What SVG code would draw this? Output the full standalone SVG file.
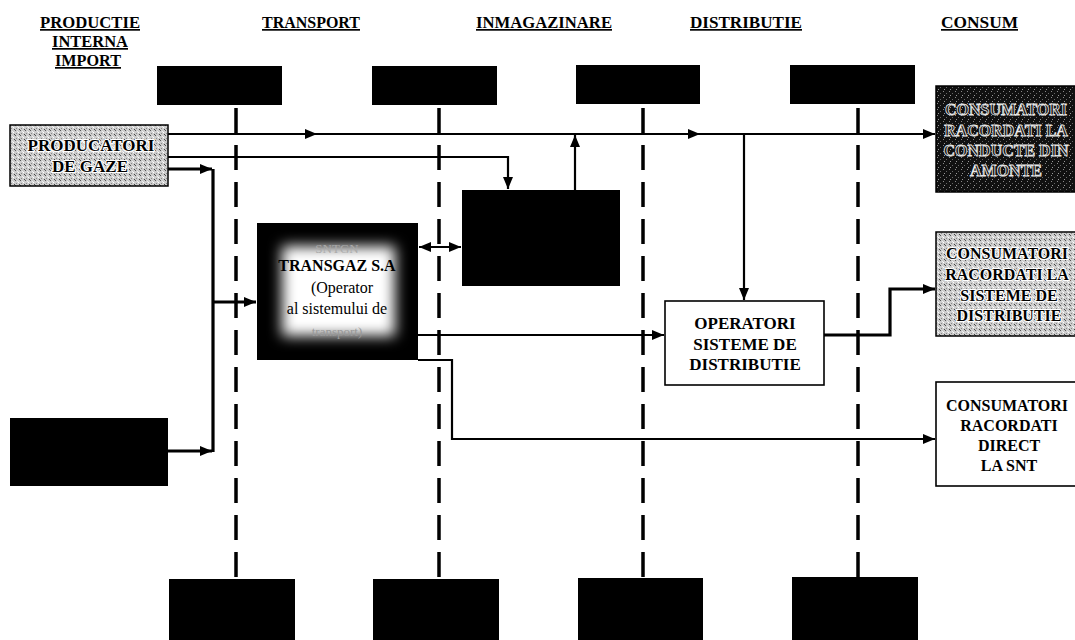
<svg xmlns="http://www.w3.org/2000/svg" width="1075" height="640" viewBox="0 0 1075 640">
<style>
.hdr{font-family:"Liberation Serif","Times New Roman",serif;font-weight:bold;font-size:17px;text-decoration:underline;fill:#000}
.lbl{font-family:"Liberation Serif","Times New Roman",serif;font-weight:bold;font-size:17px;text-anchor:middle;fill:#000}
.cl{font-size:16px}
.halo{stroke:#fff;stroke-width:2.2;paint-order:stroke;stroke-linejoin:round}
.outl{fill:#111;stroke:#e8e8e8;stroke-width:0.8}
.tg{font-family:"Liberation Serif","Times New Roman",serif;font-size:16px;text-anchor:middle;fill:#000}
.blk{fill:#000}
.dash{stroke:#000;stroke-width:3.5;stroke-dasharray:25 12;fill:none}
.ln{stroke:#000;stroke-width:2.2;fill:none}
.thk{stroke:#000;stroke-width:3.2;fill:none}
</style>
<defs>
<marker id="ah" markerUnits="userSpaceOnUse" markerWidth="13" markerHeight="11" refX="12" refY="5" orient="auto-start-reverse" viewBox="0 0 13 10">
<path d="M0,0 L12,5 L0,10 z" fill="#000"/>
</marker>
<pattern id="stip" width="5" height="5" patternUnits="userSpaceOnUse">
<rect width="5" height="5" fill="#cdcdcd"/>
<rect x="0" y="0" width="1" height="1" fill="#555"/>
<rect x="3" y="2" width="1" height="1" fill="#fff"/>
<rect x="1" y="3" width="1" height="1" fill="#888"/>
<rect x="4" y="4" width="1" height="1" fill="#444"/>
<rect x="2" y="1" width="1" height="1" fill="#eee"/>
</pattern>
<pattern id="dstip" width="6" height="6" patternUnits="userSpaceOnUse">
<rect width="6" height="6" fill="#111"/>
<rect x="1" y="1" width="1" height="1" fill="#888"/>
<rect x="4" y="3" width="1" height="1" fill="#666"/>
<rect x="2" y="5" width="1" height="1" fill="#999"/>
</pattern>
<filter id="glow" x="-20%" y="-20%" width="140%" height="140%">
<feGaussianBlur stdDeviation="7"/>
</filter>
<clipPath id="tgclip"><rect x="257" y="223" width="161" height="137"/></clipPath>
</defs>

<g id="headers">
<text class="hdr" x="40" y="28" textLength="100" lengthAdjust="spacingAndGlyphs">PRODUCTIE</text>
<text class="hdr" x="52" y="47" textLength="76" lengthAdjust="spacingAndGlyphs">INTERNA</text>
<text class="hdr" x="55" y="66" textLength="66" lengthAdjust="spacingAndGlyphs">IMPORT</text>
<text class="hdr" x="262" y="28" textLength="98" lengthAdjust="spacingAndGlyphs">TRANSPORT</text>
<text class="hdr" x="476" y="28" textLength="136" lengthAdjust="spacingAndGlyphs">INMAGAZINARE</text>
<text class="hdr" x="690" y="28" textLength="112" lengthAdjust="spacingAndGlyphs">DISTRIBUTIE</text>
<text class="hdr" x="941" y="28" textLength="77" lengthAdjust="spacingAndGlyphs">CONSUM</text>
</g>

<g id="connectors">
<line class="dash" x1="236" y1="108" x2="236" y2="580"/>
<line class="dash" x1="439" y1="108" x2="439" y2="580"/>
<line class="dash" x1="643" y1="108" x2="643" y2="580"/>
<line class="dash" x1="858" y1="108" x2="858" y2="580"/>
<path class="ln" d="M168,134 L317,134 L700,134 L935,134" marker-mid="url(#ah)" marker-end="url(#ah)"/>
<path class="ln" d="M168,157 L508,157 L508,189" marker-end="url(#ah)"/>
<path class="ln" d="M575,190 L575,135" marker-end="url(#ah)"/>
<path class="ln" d="M744,134 L744,300" marker-end="url(#ah)"/>
<path class="thk" d="M168,169 L212,169" marker-end="url(#ah)"/>
<path class="thk" d="M213,169 L213,452"/>
<path class="thk" d="M168,451 L212,451" marker-end="url(#ah)"/>
<path class="thk" d="M213,302 L256,302" marker-end="url(#ah)"/>
<path class="ln" d="M419,247 L461,247" marker-start="url(#ah)" marker-end="url(#ah)"/>
<path class="ln" d="M418,335 L664,335" marker-end="url(#ah)"/>
<path class="ln" d="M418,360 L452,360 L452,439 L935,439" marker-end="url(#ah)"/>
<path class="thk" d="M824,335 L890,335 L890,289 L935,289" marker-end="url(#ah)"/>
</g>

<g id="top-boxes">
<rect id="top-box-1" class="blk" x="157" y="66" width="125" height="39"/>
<rect id="top-box-2" class="blk" x="372" y="66" width="125" height="39"/>
<rect id="top-box-3" class="blk" x="576" y="65" width="124" height="39"/>
<rect id="top-box-4" class="blk" x="790" y="65" width="125" height="39"/>
</g>

<g id="bottom-boxes">
<rect id="bottom-box-1" class="blk" x="169" y="579" width="126" height="61"/>
<rect id="bottom-box-2" class="blk" x="373" y="579" width="126" height="61"/>
<rect id="bottom-box-3" class="blk" x="578" y="578" width="125" height="62"/>
<rect id="bottom-box-4" class="blk" x="792" y="577" width="126" height="63"/>
</g>

<g id="producatori">
<rect x="10" y="125" width="158" height="61" fill="url(#stip)" stroke="#000" stroke-width="1.5"/>
<text class="lbl halo" x="91" y="151">PRODUCATORI</text>
<text class="lbl halo" x="90" y="172">DE GAZE</text>
</g>

<g id="import-box">
<rect class="blk" x="10" y="418" width="158" height="68"/>
</g>

<g id="transgaz">
<rect class="blk" x="257" y="223" width="161" height="137"/>
<g clip-path="url(#tgclip)">
<rect x="282" y="246" width="113" height="90" fill="#fff" filter="url(#glow)"/>
</g>
<text class="tg" x="337" y="253" style="fill:#aaa;font-size:13px">SNTGN</text>
<text class="tg" x="337" y="271" style="font-weight:bold">TRANSGAZ S.A</text>
<text class="tg" x="342" y="293">(Operator</text>
<text class="tg" x="337" y="314">al sistemului de</text>
<text class="tg" x="337" y="336" style="fill:#999;font-size:13px">transport)</text>
</g>

<g id="inmagazinare">
<rect class="blk" x="462" y="190" width="158" height="96"/>
</g>

<g id="operatori">
<rect x="665" y="301" width="159" height="84" fill="#fff" stroke="#000" stroke-width="1.6"/>
<text class="lbl" x="745" y="329">OPERATORI</text>
<text class="lbl" x="745" y="350">SISTEME DE</text>
<text class="lbl" x="745" y="370">DISTRIBUTIE</text>
</g>

<g id="consumatori-amonte">
<rect x="936" y="86" width="145" height="106" fill="url(#dstip)" stroke="#000" stroke-width="1.5"/>
<text class="lbl cl outl" x="1006" y="115">CONSUMATORI</text>
<text class="lbl cl outl" x="1006" y="136">RACORDATI LA</text>
<text class="lbl cl outl" x="1006" y="156">CONDUCTE DIN</text>
<text class="lbl cl outl" x="1006" y="176">AMONTE</text>
</g>

<g id="consumatori-distributie">
<rect x="936" y="232" width="145" height="104" fill="url(#stip)" stroke="#000" stroke-width="1.5"/>
<text class="lbl cl halo" x="1007" y="259">CONSUMATORI</text>
<text class="lbl cl halo" x="1007" y="280">RACORDATI LA</text>
<text class="lbl cl halo" x="1009" y="301">SISTEME DE</text>
<text class="lbl cl halo" x="1009" y="321">DISTRIBUTIE</text>
</g>

<g id="consumatori-snt">
<rect x="936" y="382" width="145" height="104" fill="#fff" stroke="#000" stroke-width="1.6"/>
<text class="lbl cl" x="1007" y="411">CONSUMATORI</text>
<text class="lbl cl" x="1009" y="431">RACORDATI</text>
<text class="lbl cl" x="1009" y="451">DIRECT</text>
<text class="lbl cl" x="1009" y="471">LA SNT</text>
</g>
</svg>
